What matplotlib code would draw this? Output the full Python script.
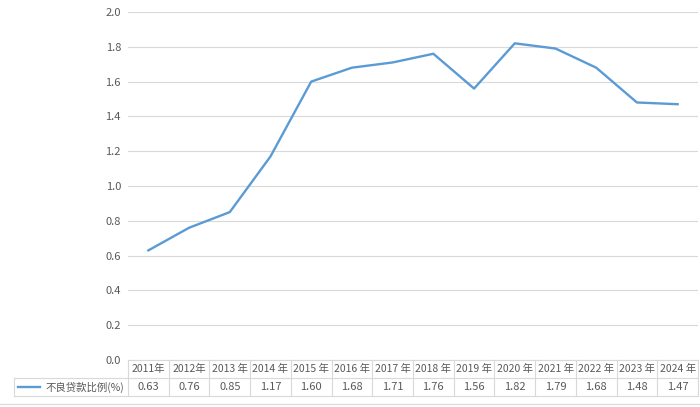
import numpy as np
import matplotlib.pyplot as plt
from matplotlib.lines import Line2D

plt.rcParams['font.family'] = ['Noto Sans CJK SC', 'DejaVu Sans']

# data
years = ['2011年', '2012年', '2013 年', '2014 年', '2015 年', '2016 年', '2017 年',
         '2018 年', '2019 年', '2020 年', '2021 年', '2022 年', '2023 年', '2024 年']
npl_ratio = [0.63, 0.76, 0.85, 1.17, 1.60, 1.68, 1.71, 1.76, 1.56, 1.82, 1.79, 1.68, 1.48, 1.47]
series_name = '不良贷款比例(%)'
yticks = np.arange(0, 2.01, 0.2)

blue = '#5b9bd5'
grid = '#d9d9d9'
txt = '#595959'

fig = plt.figure(figsize=(7, 4.07), dpi=100)
ax = fig.add_axes([128 / 700, 47 / 407, 570 / 700, 348 / 407])

x = np.arange(len(years))
ax.plot(x, npl_ratio, color=blue, lw=1.7)

ax.set_xlim(-0.5, len(years) - 0.5)
ax.set_ylim(0, 2.0)
ax.set_yticks(yticks)
ax.set_yticklabels([f'{v:.1f}' for v in yticks], color=txt, fontsize=8)
ax.set_xticks([])
ax.tick_params(axis='y', length=0, pad=5)
ax.grid(axis='y', color=grid, lw=0.8)
ax.set_axisbelow(True)
for s in ['top', 'right', 'left']:
    ax.spines[s].set_visible(False)
ax.spines['bottom'].set_color(grid)
ax.spines['bottom'].set_linewidth(0.8)

# data table below the axis (figure pixel coords)
W, H = 700, 407
def fx(px):
    return px / W
def fy(py):
    return 1 - py / H

x0, x1 = 128, 698
xl = 14
y_top, y_mid, y_bot = 360, 378, 396
cw = (x1 - x0) / len(years)

def hline(xa, xb, y):
    fig.add_artist(Line2D([fx(xa), fx(xb)], [fy(y), fy(y)], color=grid, lw=0.8))

def vline(xp, ya, yb):
    fig.add_artist(Line2D([fx(xp), fx(xp)], [fy(ya), fy(yb)], color=grid, lw=0.8))

hline(xl, x1, y_mid)
hline(xl, x1, y_bot)
vline(xl, y_mid, y_bot)
for i in range(len(years) + 1):
    vline(x0 + i * cw, y_top, y_bot)

for i, (yr, v) in enumerate(zip(years, npl_ratio)):
    cx = x0 + (i + 0.5) * cw
    fig.text(fx(cx), fy((y_top + y_mid) / 2), yr, ha='center', va='center',
             color=txt, fontsize=7.5)
    fig.text(fx(cx), fy((y_mid + y_bot) / 2), f'{v:.2f}', ha='center', va='center',
             color=txt, fontsize=8)

# legend key in the label cell
ym = (y_mid + y_bot) / 2
fig.add_artist(Line2D([fx(18), fx(40)], [fy(ym), fy(ym)], color=blue, lw=1.7))
fig.text(fx(46), fy(ym), series_name, ha='left', va='center', color=txt, fontsize=7.5)

hline(0, W, 404)

fig.savefig('out.png', dpi=100)
